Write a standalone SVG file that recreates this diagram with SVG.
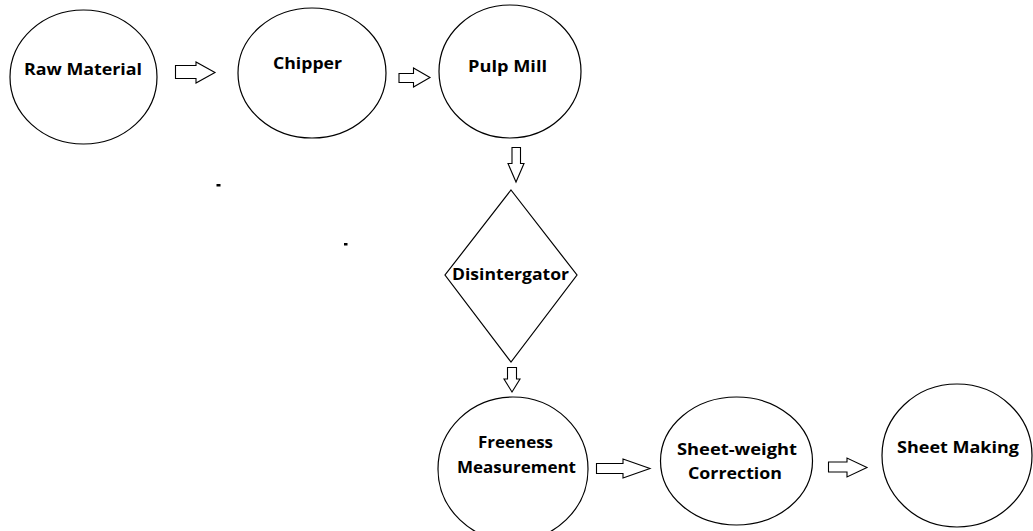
<svg xmlns="http://www.w3.org/2000/svg" width="1033" height="531" viewBox="0 0 1033 531">
<style>
.n{fill:#fff;stroke:#000;stroke-width:1.2}
.a{fill:#fff;stroke:#000;stroke-width:1.1;stroke-linejoin:miter}
.t{font-family:"Open Sans","Noto Sans","Liberation Sans",sans-serif;font-weight:bold;font-size:16px;fill:#000;text-anchor:middle}
</style>
<rect width="1033" height="531" fill="#fff"/>
<g id="raw-material"><ellipse class="n" cx="83.5" cy="77" rx="73.5" ry="67"/><text class="t" x="83" y="75" textLength="118" lengthAdjust="spacingAndGlyphs">Raw Material</text></g>
<g id="chipper"><ellipse class="n" cx="312" cy="73" rx="74" ry="65"/><text class="t" x="307.5" y="69" textLength="69" lengthAdjust="spacingAndGlyphs">Chipper</text></g>
<g id="pulp-mill"><ellipse class="n" cx="510" cy="71.5" rx="71" ry="66.5"/><text class="t" x="507.5" y="72" textLength="79" lengthAdjust="spacingAndGlyphs">Pulp Mill</text></g>
<g id="disintergator"><polygon class="n" points="511,190 577,275 511,362 445,275"/><text class="t" x="510.5" y="280" textLength="117" lengthAdjust="spacingAndGlyphs">Disintergator</text></g>
<g id="freeness"><ellipse class="n" cx="513" cy="469" rx="75" ry="72"/><text class="t" x="515.5" y="448" textLength="75" lengthAdjust="spacingAndGlyphs">Freeness</text><text class="t" x="516.5" y="473" textLength="119" lengthAdjust="spacingAndGlyphs">Measurement</text></g>
<g id="sheet-weight"><ellipse class="n" cx="736.5" cy="461" rx="76" ry="64"/><text class="t" x="737" y="455" textLength="120" lengthAdjust="spacingAndGlyphs">Sheet-weight</text><text class="t" x="735" y="479" textLength="94" lengthAdjust="spacingAndGlyphs">Correction</text></g>
<g id="sheet-making"><ellipse class="n" cx="957" cy="455.5" rx="75" ry="71.5"/><text class="t" x="958" y="453" textLength="122" lengthAdjust="spacingAndGlyphs">Sheet Making</text></g>
<g id="connectors">
<polygon class="a" points="175.5,65.5 196,65.5 196,62 215,72.5 196,83 196,78.5 175.5,78.5"/>
<polygon class="a" points="399,73.5 413.5,73.5 413.5,68 430,77.5 413.5,87 413.5,82.5 399,82.5"/>
<polygon class="a" points="512,147.5 520.5,147.5 520.5,163.5 524,163.5 516,182 508,163.5 512,163.5"/>
<polygon class="a" points="507.5,367.5 516.5,367.5 516.5,379 520,379 512,392 504,379 507.5,379"/>
<polygon class="a" points="596.5,463.5 623,463.5 623,459 650,468.5 623,478 623,473.5 596.5,473.5"/>
<polygon class="a" points="828.5,462 847,462 847,458 867,467.5 847,477 847,472 828.5,472"/>
</g>
<rect x="216.5" y="184" width="4" height="2.5" fill="#000"/>
<rect x="344" y="243" width="3.5" height="2.5" fill="#000"/>
</svg>
